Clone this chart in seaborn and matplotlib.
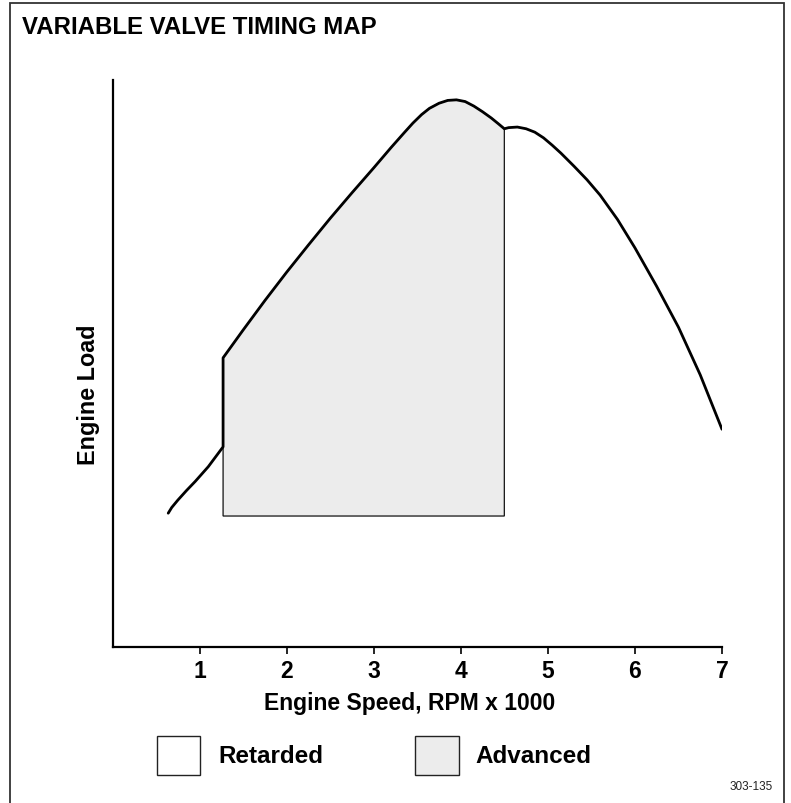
import matplotlib
matplotlib.use("Agg")
import matplotlib.pyplot as plt
from matplotlib.patches import Rectangle
import seaborn as sns
import pandas as pd

# Engine speed (x1000 rpm) and relative engine load along the torque curve
speed = [0.64, 0.68, 0.75, 0.85, 0.95, 1.10, 1.27, 1.27, 1.50, 1.75,
         2.00, 2.25, 2.50, 2.75, 3.00, 3.20, 3.35, 3.45, 3.55, 3.64,
         3.75, 3.85, 3.95, 4.05, 4.15, 4.25, 4.35, 4.43, 4.50, 4.55,
         4.65, 4.75, 4.85, 4.95, 5.05, 5.15, 5.30, 5.45, 5.60, 5.80,
         6.00, 6.25, 6.50, 6.75, 7.00]
load = [23.6, 24.6, 25.9, 27.6, 29.2, 31.8, 35.3, 51.0, 55.9, 61.1,
        66.1, 70.9, 75.6, 80.1, 84.5, 88.1, 90.7, 92.4, 93.9, 95.0,
        95.9, 96.4, 96.5, 96.2, 95.4, 94.4, 93.3, 92.3, 91.4, 91.6,
        91.7, 91.4, 90.8, 89.8, 88.5, 87.1, 84.8, 82.4, 79.7, 75.4,
        70.4, 63.6, 56.4, 48.0, 38.4]

# Advanced-timing window
adv_start, adv_end, adv_floor = 1.27, 4.50, 23.1

xticks = [1, 2, 3, 4, 5, 6, 7]
title = "VARIABLE VALVE TIMING MAP"
legend_labels = ["Retarded", "Advanced"]
legend_colors = ["white", "#ececec"]

sns.set_theme(style="white")
plt.rcParams["font.family"] = ["Liberation Sans", "DejaVu Sans"]
plt.rcParams["text.color"] = "black"
plt.rcParams["axes.labelcolor"] = "black"
plt.rcParams["xtick.color"] = "black"

W, H = 791, 804
fig = plt.figure(figsize=(W / 100, H / 100), dpi=100)


def fx(px):
    return px / W


def fy(py):
    return 1 - py / H


ax_left, ax_right = 112.5, 722
ax = fig.add_axes([fx(ax_left), fy(648), fx(ax_right) - fx(ax_left),
                   fy(81) - fy(648)])

df = pd.DataFrame({"speed": speed, "load": load})

# Shaded advanced region: up the left edge, along the curve, down to the floor
i0 = speed.index(adv_start) + 1
i1 = speed.index(adv_end)
poly_x = [adv_start] + speed[i0:i1 + 1] + [adv_end]
poly_y = [adv_floor] + load[i0:i1 + 1] + [adv_floor]
ax.fill(poly_x, poly_y, facecolor=legend_colors[1], edgecolor="#111111",
        linewidth=0.9, zorder=1)

sns.lineplot(data=df, x="speed", y="load", sort=False, estimator=None,
             color="black", linewidth=2.0, ax=ax, zorder=3)

ax.set_xlim(0, 7)
ax.set_ylim(0, 100)
ax.set_xticks(xticks)
ax.set_xticklabels([str(t) for t in xticks], fontweight="bold", fontsize=16.5)
ax.set_yticks([])
ax.tick_params(axis="x", direction="out", length=5, width=1.2,
               color="black", pad=4, bottom=True)
for side in ["top", "right"]:
    ax.spines[side].set_visible(False)
for side in ["left", "bottom"]:
    ax.spines[side].set_color("black")
    ax.spines[side].set_linewidth(1.6)

ax.set_xlabel("Engine Speed, RPM x 1000", fontweight="bold", fontsize=16.5)
ax.xaxis.set_label_coords((410 - ax_left) / (ax_right - ax_left),
                          -(704 - 648) / (648 - 81))
ax.xaxis.label.set_va("center")
ax.set_ylabel("")
fig.text(fx(88), fy(395), "Engine Load", rotation=90, ha="center",
         va="center", fontweight="bold", fontsize=16.8)

fig.text(fx(22), fy(28), title, ha="left", va="center",
         fontweight="bold", fontsize=17.3)

# Legend swatches
for (x0, x1), lab, col, tx in zip([(157, 200), (415, 459)], legend_labels,
                                   legend_colors, [218, 475]):
    fig.add_artist(Rectangle((fx(x0), fy(776)), fx(x1) - fx(x0),
                             fy(737) - fy(776), transform=fig.transFigure,
                             facecolor=col, edgecolor="#222222",
                             linewidth=1.0))
    fig.text(fx(tx), fy(757), lab, ha="left", va="center",
             fontweight="bold", fontsize=17.5)

fig.text(fx(773), fy(787), "303-135", ha="right", va="center",
         fontsize=8.5, color="#222222")

# Outer frame
fig.add_artist(Rectangle((fx(10), fy(830)), fx(784) - fx(10),
                         fy(4) - fy(830), transform=fig.transFigure,
                         facecolor="none", edgecolor="#333333",
                         linewidth=1.3))

fig.savefig("out.png", dpi=100, facecolor="white")
